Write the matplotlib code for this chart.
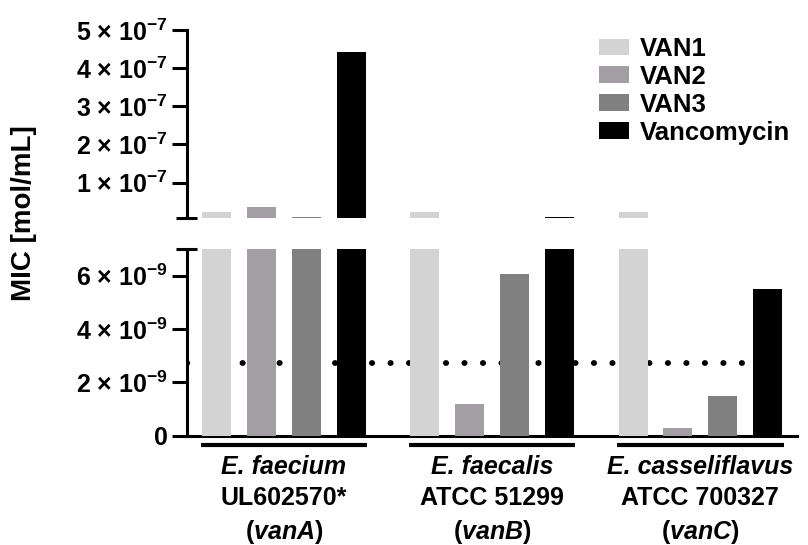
import matplotlib
matplotlib.use("Agg")
import matplotlib.pyplot as plt
import matplotlib.transforms as mtransforms
from matplotlib.ticker import FuncFormatter
import numpy as np

plt.rcParams['font.family'] = 'Liberation Sans'
plt.rcParams['font.weight'] = 'bold'
plt.rcParams['mathtext.fontset'] = 'custom'
plt.rcParams['mathtext.rm'] = 'Liberation Sans:bold'
plt.rcParams['mathtext.it'] = 'Liberation Sans:italic:bold'
plt.rcParams['mathtext.bf'] = 'Liberation Sans:bold'
plt.rcParams['mathtext.default'] = 'rm'

# data (MIC in mol/mL)
species = ['E. faecium', 'E. faecalis', 'E. casseliflavus']
strains = ['UL602570*', 'ATCC 51299', 'ATCC 700327']
genes = ['vanA', 'vanB', 'vanC']
compounds = ['VAN1', 'VAN2', 'VAN3', 'Vancomycin']
van1 = [2.3e-8, 2.3e-8, 2.3e-8]
van2 = [3.7e-8, 1.2e-9, 3.0e-10]
van3 = [1.04e-8, 6.05e-9, 1.5e-9]
vanco = [4.43e-7, 8.8e-9, 5.5e-9]
breakpoint_mic = 2.74e-9

top_ticks = [1e-7, 2e-7, 3e-7, 4e-7, 5e-7]
bot_ticks = [0, 2e-9, 4e-9, 6e-9]

colors = ['#d3d3d3', '#a29ea3', '#808080', '#000000']
series = [van1, van2, van3, vanco]

group_x = np.arange(3) * 4.65
centers = group_x + 1.5


def sci(v, pos):
    if v == 0:
        return '0'
    e = int(np.floor(np.log10(v) + 1e-9))
    m = int(round(v / 10**e))
    return f'{m} \u00d7 10$^{{{e}}}$'


fig = plt.figure(figsize=(8.08, 5.45), dpi=100)
ax_top = fig.add_axes([0.2311, 0.600, 0.7553, 0.345])
ax_bot = fig.add_axes([0.2311, 0.2009, 0.7553, 0.3422])

for ax in (ax_top, ax_bot):
    for i, vals in enumerate(series):
        ax.bar(group_x + i, vals, width=0.65, color=colors[i],
               label=compounds[i], zorder=3)
    ax.set_xlim(-0.67, 12.96)
    ax.spines['top'].set_visible(False)
    ax.spines['right'].set_visible(False)
    ax.spines['left'].set_linewidth(2.2)
    ax.spines['bottom'].set_linewidth(2.2)
    ax.tick_params(axis='x', bottom=False, labelbottom=False)
    ax.tick_params(axis='y', length=11, width=2.2, labelsize=18, pad=2.5)
    ax.yaxis.set_major_formatter(FuncFormatter(sci))

ax_top.spines['bottom'].set_visible(False)
ax_top.set_ylim(7e-9, 5e-7)
ax_top.set_yticks(top_ticks)
ax_bot.set_ylim(0, 7e-9)
ax_bot.set_yticks(bot_ticks)

# break caps
ax_top.plot([-0.017, 0.017], [0, 0], transform=ax_top.transAxes, color='k',
            lw=2.2, clip_on=False, solid_capstyle='butt')
ax_bot.plot([-0.017, 0.017], [1, 1], transform=ax_bot.transAxes, color='k',
            lw=2.2, clip_on=False, solid_capstyle='butt')

# breakpoint dotted line
ax_bot.axhline(breakpoint_mic, color='k', lw=4.2, linestyle=(0, (0.05, 3.12)),
               dash_capstyle='round', zorder=2)

trans = mtransforms.blended_transform_factory(ax_bot.transData, ax_bot.transAxes)
for c, sp, st, g in zip(centers, species, strains, genes):
    ax_bot.plot([c - 1.86, c + 1.86], [-0.051, -0.051], transform=trans,
                color='k', lw=3, clip_on=False, solid_capstyle='butt')
    ax_bot.text(c, -0.169, sp, style='italic', ha='center', va='center',
                fontsize=18, transform=trans)
    ax_bot.text(c, -0.335, st, ha='center', va='center', fontsize=18,
                transform=trans)
    ax_bot.text(c, -0.517, rf'$\mathrm{{(}}\mathit{{{g}}}\mathrm{{)}}$',
                ha='center', va='center', fontsize=18, transform=trans)

handles, labels = ax_top.get_legend_handles_labels()
fig.legend(handles, labels, loc='upper left',
           bbox_to_anchor=(599 / 808, 1 - 37 / 545), frameon=False,
           fontsize=18.5, handlelength=1.17, handleheight=0.62,
           labelspacing=0.15, handletextpad=0.42, borderpad=0,
           borderaxespad=0)

fig.text(24 / 808, 1 - 213 / 545, 'MIC [mol/mL]', rotation=90,
         ha='center', va='center', fontsize=20)

fig.savefig('out.png', dpi=100)
